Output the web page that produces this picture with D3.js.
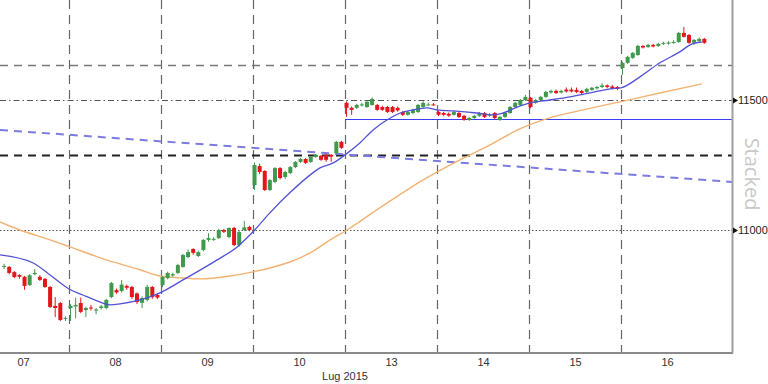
<!DOCTYPE html>
<html>
<head>
<meta charset="utf-8">
<script src="https://cdn.jsdelivr.net/npm/d3@7"></script>
<style>
body{margin:0;background:#ffffff;}
svg{display:block;font-family:"Liberation Sans",Arial,sans-serif;}
</style>
</head>
<body>
<div id="chart"></div>
<script>
// day labels (hourly candles, 18 per day)
var dayLabels = ["07","08","09","10","13","14","15","16"];
var monthLabel = "Lug 2015";
var priceTicks = [11000, 11500];
var slotsPerDay = 18;
var firstSlot = 5;

// [open, high, low, close]
var candles = [
    // 07
    [10858,10870,10850,10862],[10858,10862,10830,10835],[10838,10842,10815,10819],[10827,10830,10812,10820],
    [10820,10823,10770,10785],[10788,10830,10785,10826],[10830,10850,10826,10835],[10820,10826,10804,10808],
    [10812,10815,10777,10781],[10781,10785,10700,10704],[10708,10742,10665,10700],[10719,10723,10650,10654],
    [10660,10668,10650,10662],
    // 08
    [10700,10715,10650,10708],[10706,10740,10660,10712],[10719,10740,10680,10685],[10692,10705,10665,10700],
    [10702,10712,10690,10698],[10690,10700,10676,10694],[10700,10712,10695,10706],[10700,10735,10695,10731],
    [10742,10800,10738,10796],[10769,10775,10755,10760],[10765,10808,10760,10790],[10785,10790,10770,10778],
    [10781,10785,10735,10742],[10756,10760,10715,10723],[10720,10745,10700,10738],[10731,10790,10725,10781],
    [10781,10785,10735,10742],[10750,10755,10735,10740],
    // 09
    [10788,10823,10780,10819],[10815,10840,10810,10835],[10825,10836,10820,10830],[10835,10870,10830,10865],
    [10858,10908,10855,10904],[10896,10925,10892,10915],[10927,10930,10905,10912],[10900,10920,10896,10915],
    [10923,10965,10918,10962],[10962,10988,10955,10969],[10962,10972,10958,10966],[10969,11005,10965,11000],
    [11000,11004,10988,10993],[10973,11010,10968,11008],[11008,11012,10938,10942],[10942,10996,10935,10992],
    [11000,11035,10996,11010],[11012,11016,10995,11000],
    // 10
    [11173,11260,11154,11250],[11246,11255,11215,11223],[11227,11230,11150,11154],[11154,11196,11150,11192],
    [11185,11242,11180,11238],[11238,11242,11195,11200],[11204,11227,11196,11223],[11219,11246,11215,11242],
    [11242,11265,11238,11262],[11262,11277,11258,11273],[11273,11277,11254,11258],[11262,11285,11258,11281],
    [11281,11293,11277,11289],[11285,11289,11266,11270],[11289,11293,11262,11270],[11289,11292,11262,11282],
    [11296,11343,11292,11339],[11339,11343,11312,11316],
    // 13
    [11489,11495,11435,11470],[11470,11475,11443,11462],[11470,11485,11465,11481],[11479,11490,11475,11483],
    [11473,11497,11470,11493],[11481,11510,11478,11504],[11481,11485,11458,11462],[11473,11478,11458,11462],
    [11473,11477,11450,11454],[11473,11477,11450,11454],[11470,11475,11455,11460],[11454,11458,11438,11443],
    [11443,11458,11440,11454],[11450,11466,11445,11462],[11454,11485,11450,11481],[11473,11495,11470,11489],
    [11481,11490,11478,11483],[11483,11488,11478,11481],
    // 14
    [11454,11458,11438,11443],[11450,11455,11438,11443],[11447,11452,11435,11440],[11443,11458,11440,11454],
    [11450,11454,11431,11435],[11439,11443,11420,11423],[11423,11435,11420,11431],[11431,11443,11427,11439],
    [11439,11454,11435,11450],[11450,11454,11431,11435],[11440,11450,11435,11445],[11450,11454,11427,11431],
    [11423,11439,11420,11435],[11435,11454,11431,11450],[11450,11477,11447,11473],[11473,11493,11470,11489],
    [11481,11504,11477,11500],[11500,11520,11496,11512],
    // 15
    [11508,11512,11468,11473],[11489,11504,11485,11500],[11500,11516,11496,11512],[11512,11535,11508,11531],
    [11529,11540,11525,11535],[11535,11540,11523,11527],[11529,11540,11525,11535],[11540,11548,11529,11533],
    [11540,11548,11529,11533],[11539,11548,11527,11531],[11535,11539,11520,11527],[11531,11547,11527,11543],
    [11539,11550,11535,11547],[11545,11554,11540,11550],[11550,11565,11546,11556],[11556,11560,11545,11550],
    [11552,11558,11540,11543],[11550,11554,11538,11543],
    // 16
    [11623,11647,11597,11643],[11643,11670,11639,11666],[11662,11685,11658,11681],[11673,11712,11670,11708],
    [11708,11712,11698,11702],[11704,11716,11700,11712],[11712,11716,11702,11706],[11708,11720,11704,11716],
    [11716,11724,11712,11720],[11717,11726,11713,11721],[11720,11730,11716,11723],[11723,11762,11720,11758],
    [11758,11781,11740,11743],[11750,11754,11716,11720],[11720,11735,11712,11731],[11727,11740,11723,11735],
    [11735,11739,11716,11720]
];

// moving averages: [slot, price]
var maFast = [
    [4.5,10904],[11.0,10873],[14.3,10827],[18.0,10773],[20.7,10750],[24.1,10723],[26.0,10712],[28.0,10716],
    [31.9,10731],[35.8,10758],[40.3,10808],[47.0,10885],[50.9,10935],[54.0,10993],[57.3,11066],[61.2,11143],
    [65.2,11212],[67.1,11239],[69.7,11258],[72.0,11289],[74.9,11335],[77.5,11385],[80.2,11423],[82.8,11450],
    [85.3,11462],[88.0,11470],[90.0,11462],[93.1,11458],[97.8,11450],[101.0,11443],[102.9,11450],[105.7,11473],
    [108.2,11489],[112.1,11500],[116.0,11512],[119.9,11527],[123.9,11543],[126.0,11547],[129.7,11589],
    [133.6,11643],[137.5,11685],[139.9,11716],[141.8,11723]
];
var maSlow = [
    [4.5,11031],[8.4,11000],[14.3,10962],[18.2,10935],[24.1,10893],[31.9,10847],[35.8,10823],[39.7,10816],
    [43.6,10812],[49.5,10823],[54.0,10839],[57.3,10854],[61.2,10877],[65.2,10912],[69.1,10962],[72.4,11000],
    [78.8,11085],[87.3,11193],[94.5,11270],[100.4,11327],[106.2,11389],[112.7,11435],[118.6,11462],
    [125.8,11493],[133.6,11527],[141.8,11562]
];

var trendLine = [[4.5,11385],[147.7,11185]];
var supportLevel = 11427;   // starts at day 13
var supportStart = 72;
var blackLevel = 11289;
var grayLevel = 11635;

var width = 768;
var height = 384;
var plotRight = 732;
var plotBottom = 353;
var upColor = "#3f9a4c";
var downColor = "#e3161b";

var svg = d3.select("#chart")
            .append("svg")
            .attr("width",width)
            .attr("height",height);

var x = d3.scaleLinear()
            .domain([0, dayLabels.length * slotsPerDay])
            .range([-23, 713]);
var y = d3.scaleLinear()
            .domain([11000, 11500])
            .range([230, 100]);

svg.append("clipPath")
    .attr("id","plotclip")
    .append("rect")
    .attr("x",0).attr("y",0)
    .attr("width",plotRight).attr("height",plotBottom);

var plot = svg.append("g").attr("clip-path","url(#plotclip)");

// day separators
var boundaries = d3.range(1, dayLabels.length).map(function(i){ return i * slotsPerDay; });
plot.append("g")
    .selectAll("line")
    .data(boundaries)
    .enter()
    .append("line")
    .attr("x1",function(d){ return Math.round(x(d)) + 0.5; })
    .attr("x2",function(d){ return Math.round(x(d)) + 0.5; })
    .attr("y1",0)
    .attr("y2",plotBottom)
    .attr("stroke","#666")
    .attr("stroke-width",1.2)
    .attr("stroke-dasharray","9,6");

// horizontal levels
function hline(price, color, w, dash){
    plot.append("line")
        .attr("x1",0).attr("x2",plotRight)
        .attr("y1",Math.round(y(price)) + 0.5)
        .attr("y2",Math.round(y(price)) + 0.5)
        .attr("stroke",color)
        .attr("stroke-width",w)
        .attr("stroke-dasharray",dash);
}
hline(grayLevel,"#777",1.3,"8,6");
hline(priceTicks[1],"#555",1.2,"6,3,1.5,3");
hline(priceTicks[0],"#555",1.2,"1.5,2");
hline(blackLevel,"#222",2,"8,6");

plot.append("line")
    .attr("x1",x(supportStart)).attr("x2",plotRight)
    .attr("y1",Math.round(y(supportLevel)) + 0.5)
    .attr("y2",Math.round(y(supportLevel)) + 0.5)
    .attr("stroke","#3c3cf0")
    .attr("stroke-width",1);

plot.append("line")
    .attr("x1",x(trendLine[0][0])).attr("y1",y(trendLine[0][1]))
    .attr("x2",x(trendLine[1][0])).attr("y2",y(trendLine[1][1]))
    .attr("stroke","#7b7be0")
    .attr("stroke-width",2)
    .attr("stroke-dasharray","8,6");

// moving averages
var maLine = d3.line()
                .x(function(d){ return x(d[0]); })
                .y(function(d){ return y(d[1]); })
                .curve(d3.curveMonotoneX);
plot.append("path")
    .attr("d",maLine(maSlow))
    .attr("fill","none")
    .attr("stroke","#f4b272")
    .attr("stroke-width",1.4);

// candles
var candleG = plot.append("g")
                .selectAll("g")
                .data(candles)
                .enter()
                .append("g");
candleG.append("line")
    .attr("x1",function(d,i){ return x(firstSlot + i + 0.3); })
    .attr("x2",function(d,i){ return x(firstSlot + i + 0.3); })
    .attr("y1",function(d){ return y(d[1]); })
    .attr("y2",function(d){ return y(d[2]); })
    .attr("stroke",function(d){ return d[3] >= d[0] ? upColor : downColor; })
    .attr("stroke-width",1);
candleG.append("rect")
    .attr("x",function(d,i){ return x(firstSlot + i + 0.3) - 2; })
    .attr("width",4)
    .attr("y",function(d){ return y(Math.max(d[0],d[3])); })
    .attr("height",function(d){ return Math.max(1, Math.abs(y(d[0]) - y(d[3]))); })
    .attr("fill",function(d){ return d[3] >= d[0] ? upColor : downColor; });

plot.append("path")
    .attr("d",maLine(maFast))
    .attr("fill","none")
    .attr("stroke","#5252d6")
    .attr("stroke-width",1.3);

// axes frame
svg.append("line")
    .attr("x1",0).attr("x2",plotRight + 1)
    .attr("y1",plotBottom).attr("y2",plotBottom)
    .attr("stroke","#8a8a8a")
    .attr("stroke-width",2);
svg.append("line")
    .attr("x1",plotRight + 0.5).attr("x2",plotRight + 0.5)
    .attr("y1",0).attr("y2",plotBottom)
    .attr("stroke","#a0a0a0")
    .attr("stroke-width",2);

// bottom labels
var xAxis = d3.axisBottom(x)
                .tickValues(dayLabels.map(function(d,i){ return i * slotsPerDay + slotsPerDay / 2; }))
                .tickFormat(function(d,i){ return dayLabels[i]; })
                .tickSize(0)
                .tickPadding(5);
var xg = svg.append("g")
            .attr("transform","translate(0," + plotBottom + ")")
            .call(xAxis);
xg.select(".domain").remove();
xg.selectAll("text")
    .attr("font-size",11)
    .attr("font-family","'Liberation Sans',Arial,sans-serif")
    .attr("fill","#333");

svg.append("text")
    .attr("x",x(4 * slotsPerDay))
    .attr("y",380)
    .attr("text-anchor","middle")
    .attr("font-size",11)
    .attr("fill","#333")
    .text(monthLabel);

// right labels
var yAxis = d3.axisRight(y)
                .tickValues(priceTicks)
                .tickFormat(d3.format("d"))
                .tickSize(0)
                .tickPadding(6);
var yg = svg.append("g")
            .attr("transform","translate(" + plotRight + ",0)")
            .call(yAxis);
yg.select(".domain").remove();
yg.selectAll("text")
    .attr("font-size",11)
    .attr("font-family","'Liberation Sans',Arial,sans-serif")
    .attr("fill","#222");
yg.selectAll(".tick")
    .append("path")
    .attr("d","M1,-3L6,0L1,3Z")
    .attr("fill","#111");

svg.append("text")
    .attr("transform","translate(745,174) rotate(90)")
    .attr("text-anchor","middle")
    .attr("font-size",20)
    .attr("font-family","'Open Sans','Noto Sans',sans-serif")
    .attr("fill","#c8c8c8")
    .text("Stacked");
</script>
</body>
</html>
